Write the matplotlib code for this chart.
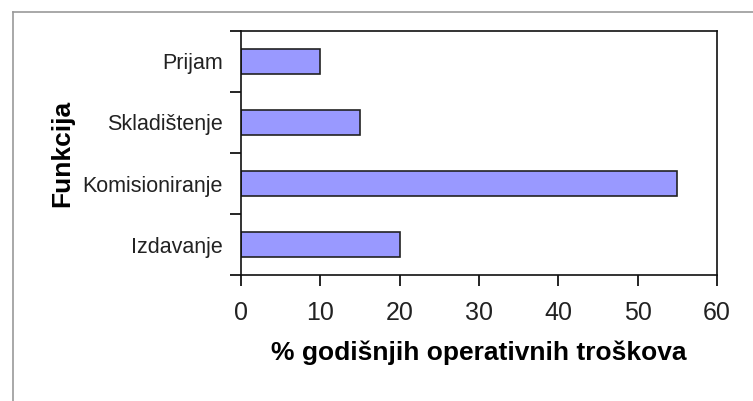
import matplotlib
matplotlib.use("Agg")
import matplotlib.pyplot as plt
from matplotlib.lines import Line2D

# data
funkcije = ["Prijam", "Skladištenje", "Komisioniranje", "Izdavanje"]
troskovi = [10, 15, 55, 20]
x_ticks = [0, 10, 20, 30, 40, 50, 60]

plt.rcParams['font.family'] = ['Liberation Sans', 'DejaVu Sans']

fig = plt.figure(figsize=(7.53, 4.01), dpi=100)
ax = fig.add_axes([0.320, 0.314, 0.632, 0.609])

pos = list(range(len(funkcije)))
ax.barh(pos, troskovi, height=0.4, color="#9999ff", edgecolor="#222222", linewidth=1.2)

ax.set_xlim(0, 60)
ax.set_ylim(len(funkcije) - 0.5, -0.5)
ax.set_xticks(x_ticks)
ax.set_xticklabels([str(t) for t in x_ticks], fontsize=18, color="#222222")
ax.set_yticks(pos)
ax.set_yticklabels(funkcije, fontsize=15.5, color="#222222")
ax.set_yticks([p - 0.5 for p in pos] + [len(funkcije) - 0.5], minor=True)
ax.tick_params(axis='y', which='major', length=0, pad=13)
ax.tick_params(axis='y', which='minor', length=8, width=1.2, direction='out')
ax.tick_params(axis='x', length=8, width=1.2, direction='out', pad=11)

for s in ax.spines.values():
    s.set_linewidth(1.2)
    s.set_color("#111111")

ax.set_xlabel("% godišnjih operativnih troškova", fontsize=19, fontweight='bold', labelpad=11)
ax.set_ylabel("Funkcija", fontsize=19, fontweight='bold', labelpad=6)

# outer frame of the chart area (only top and left visible)
fig.add_artist(Line2D([13/753, 1], [1 - 12/401, 1 - 12/401], color="#999999", lw=1.2))
fig.add_artist(Line2D([13/753, 13/753], [0, 1 - 12/401], color="#999999", lw=1.2))

fig.savefig("out.png", dpi=100)
